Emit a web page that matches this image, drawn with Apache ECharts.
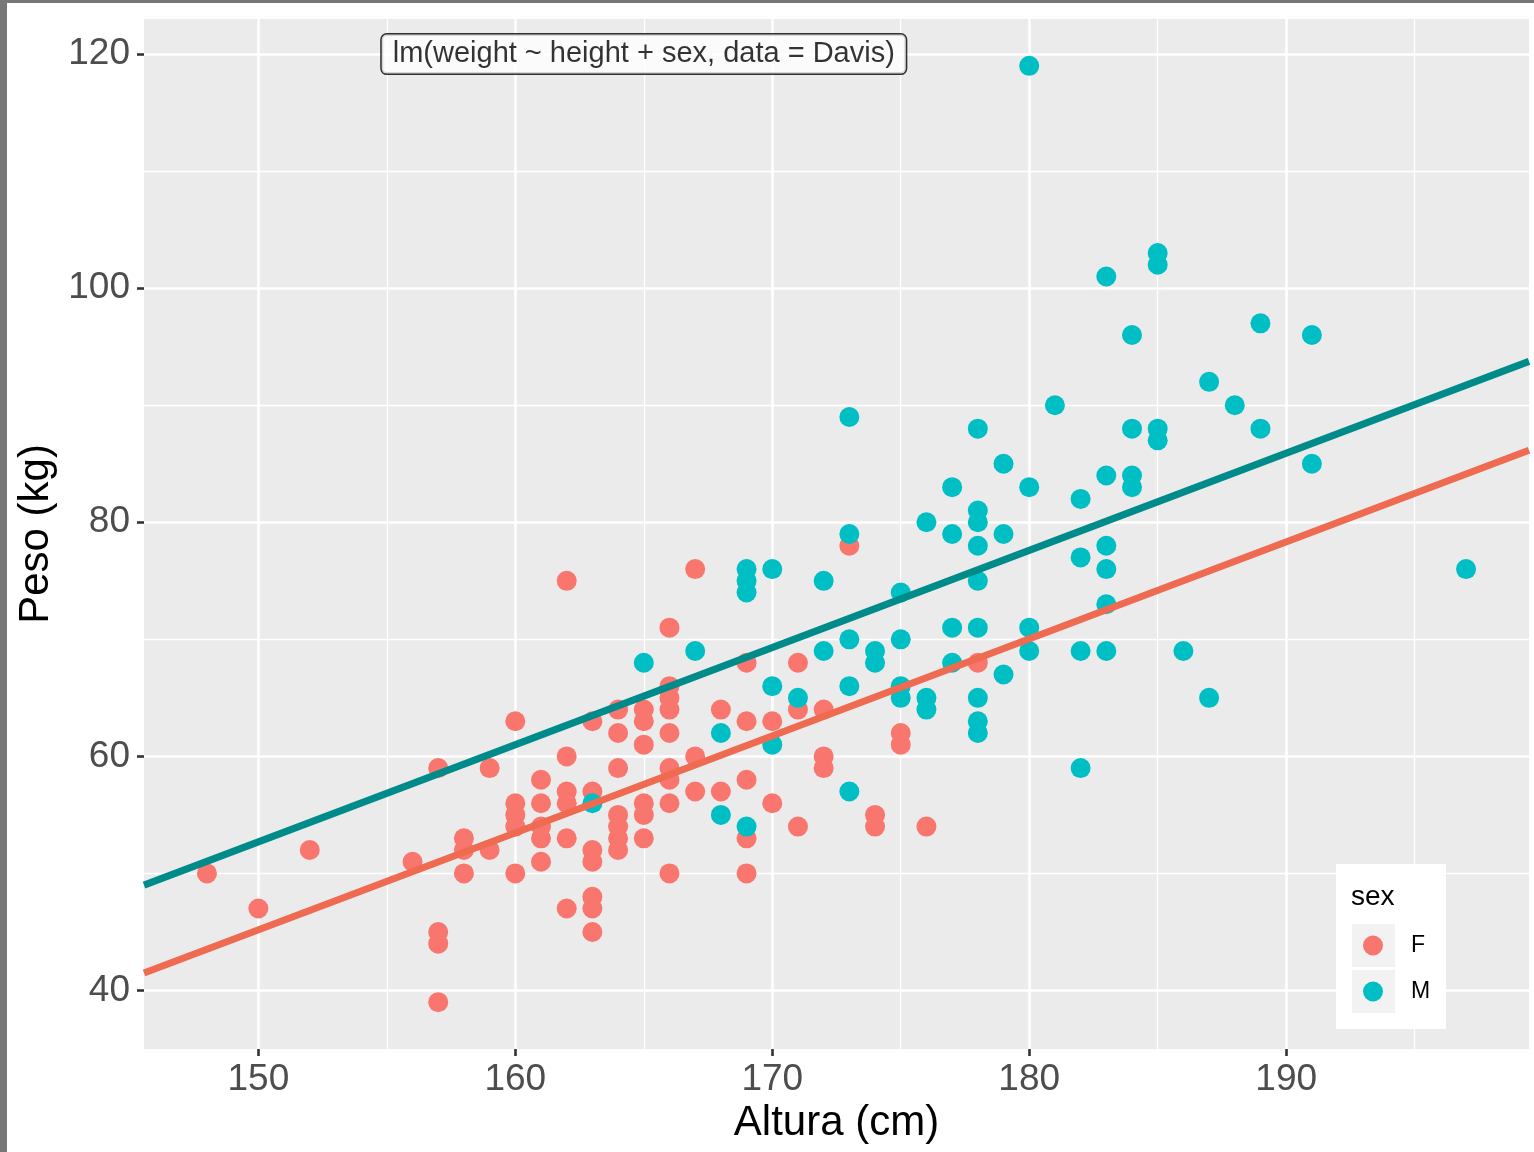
<!DOCTYPE html>
<html>
<head>
<meta charset="utf-8">
<script src="https://cdn.jsdelivr.net/npm/echarts@6.0.0/dist/echarts.min.js"></script>
<style>
html, body { margin: 0; padding: 0; background: #fff; }
#main { width: 1534px; height: 1152px; }
</style>
</head>
<body>
<div id="main"></div>
<script>
// Davis data: [height (cm), weight (kg)]
var femalePoints = [
    [148,50],[150,47],[152,52],[156,51],
    [157,59],[157,45],[157,44],[157,39],
    [158,53],[158,52],[158,50],
    [159,59],[159,52],
    [160,63],[160,56],[160,55],[160,54],[160,50],
    [161,58],[161,56],[161,54],[161,53],[161,51],
    [162,75],[162,60],[162,57],[162,56],[162,53],[162,47],
    [163,63],[163,57],[163,52],[163,51],[163,48],[163,47],[163,45],
    [164,64],[164,62],[164,59],[164,55],[164,54],[164,53],[164,52],
    [165,64],[165,63],[165,61],[165,56],[165,55],[165,53],
    [166,71],[166,66],[166,65],[166,64],[166,62],[166,59],[166,58],[166,56],[166,50],
    [167,76],[167,60],[167,57],
    [168,64],[168,57],
    [169,68],[169,63],[169,58],[169,53],[169,50],
    [170,63],[170,56],
    [171,68],[171,64],[171,54],
    [172,64],[172,60],[172,59],
    [173,78],[174,55],[174,54],[175,62],[175,61],[176,54],[178,68]
];
var malePoints = [
    [163,56],[165,68],[167,69],[168,62],[168,55],
    [169,76],[169,75],[169,74],[169,54],
    [170,76],[170,66],[170,61],
    [171,65],[172,75],[172,69],
    [173,89],[173,79],[173,70],[173,66],[173,57],
    [174,69],[174,68],
    [175,74],[175,70],[175,66],[175,65],
    [176,80],[176,65],[176,64],
    [177,83],[177,79],[177,71],[177,68],
    [178,88],[178,81],[178,80],[178,78],[178,75],[178,71],[178,65],[178,63],[178,62],
    [179,85],[179,79],[179,67],
    [180,119],[180,83],[180,71],[180,69],
    [181,90],
    [182,82],[182,77],[182,69],[182,59],
    [183,101],[183,84],[183,78],[183,76],[183,73],[183,69],
    [184,96],[184,88],[184,84],[184,83],
    [185,103],[185,102],[185,88],[185,87],
    [186,69],[187,92],[187,65],[188,90],
    [189,97],[189,88],[191,96],[191,85],[197,76]
];
// fitted lines (lm), end points read at the panel edges
var fitF = [[145.55, 41.5], [199.45, 86.15]];
var fitM = [[145.55, 49.0], [199.45, 93.75]];

var xTicks = [150, 160, 170, 180, 190];
var yTicks = [40, 60, 80, 100, 120];
var sexLevels = ['F', 'M'];
var modelLabel = 'lm(weight ~ height + sex, data = Davis)';
var modelLabelPos = [[165, 120]];

var font = "'Liberation Sans', Arial, Helvetica, sans-serif";
var myChart = echarts.init(document.getElementById('main'));

function makeAxis(name, min, max, ticks, nameGap, margin) {
    return {
        type: 'value',
        min: min,
        max: max,
        name: name,
        nameLocation: 'middle',
        nameGap: nameGap,
        nameTextStyle: { fontFamily: font, fontSize: 42, color: '#000' },
        axisLine: { show: false },
        axisTick: { show: true, length: 7, customValues: ticks, lineStyle: { color: '#333', width: 2.6 } },
        axisLabel: { customValues: ticks, fontFamily: font, fontSize: 37, color: '#4D4D4D', margin: margin },
        splitLine: { show: true, lineStyle: { color: '#fff', width: 2.6 } },
        minorTick: { show: false, splitNumber: 2 },
        minorSplitLine: { show: true, lineStyle: { color: '#fff', width: 1.3 } }
    };
}

var option = {
    animation: false,
    grid: {
        left: 144, top: 19, right: 5, bottom: 103,
        show: true, backgroundColor: '#EBEBEB', borderWidth: 0
    },
    xAxis: makeAxis('Altura (cm)', 145.55, 199.45, xTicks, 52, 12),
    yAxis: makeAxis('Peso (kg)', 35, 123, yTicks, 83, 14),
    legend: {
        data: sexLevels,
        orient: 'vertical',
        left: 1363, top: 934,
        itemWidth: 20, itemHeight: 20, itemGap: 23,
        icon: 'circle',
        padding: 0,
        selectedMode: false,
        textStyle: { fontFamily: font, fontSize: 23, color: '#000', padding: [0, 0, 0, 23] }
    },
    series: [
        {
            name: 'F', type: 'scatter', data: femalePoints, symbolSize: 20,
            itemStyle: { color: '#F8766D', opacity: 1 }, z: 2
        },
        {
            name: 'M', type: 'scatter', data: malePoints, symbolSize: 20,
            itemStyle: { color: '#00BFC4', opacity: 1 }, z: 2
        },
        {
            name: 'fit F', type: 'line', data: fitF, showSymbol: false, silent: true,
            lineStyle: { color: '#EE6A50', width: 7 }, z: 3
        },
        {
            name: 'fit M', type: 'line', data: fitM, showSymbol: false, silent: true,
            lineStyle: { color: '#008B8B', width: 7 }, z: 3
        },
        {
            name: 'model', type: 'scatter', data: modelLabelPos, symbolSize: 1, silent: true,
            itemStyle: { color: 'rgba(0,0,0,0)' }, z: 4,
            label: {
                show: true, position: 'inside', formatter: modelLabel,
                fontFamily: font, fontSize: 29, color: '#000',
                backgroundColor: '#fff', borderColor: '#000', borderWidth: 1.5, borderRadius: 5,
                padding: [7, 11, 3, 11]
            }
        }
    ],
    graphic: [
        { type: 'rect', shape: { x: 1336, y: 864, width: 110, height: 165 }, style: { fill: '#fff' }, z: 3 },
        { type: 'rect', shape: { x: 1352, y: 924, width: 43, height: 43 }, style: { fill: '#F2F2F2' }, z: 3 },
        { type: 'rect', shape: { x: 1352, y: 970, width: 43, height: 43 }, style: { fill: '#F2F2F2' }, z: 3 },
        { type: 'text', x: 1351, y: 897, style: { text: 'sex', fontFamily: font, fontSize: 28, fill: '#000', verticalAlign: 'middle' }, z: 3 },
        { type: 'rect', shape: { x: 0, y: 0, width: 7, height: 1152 }, style: { fill: '#777' }, z: 100 },
        { type: 'rect', shape: { x: 0, y: 0, width: 1534, height: 3 }, style: { fill: '#777' }, z: 100 }
    ]
};
myChart.setOption(option);
</script>
</body>
</html>
